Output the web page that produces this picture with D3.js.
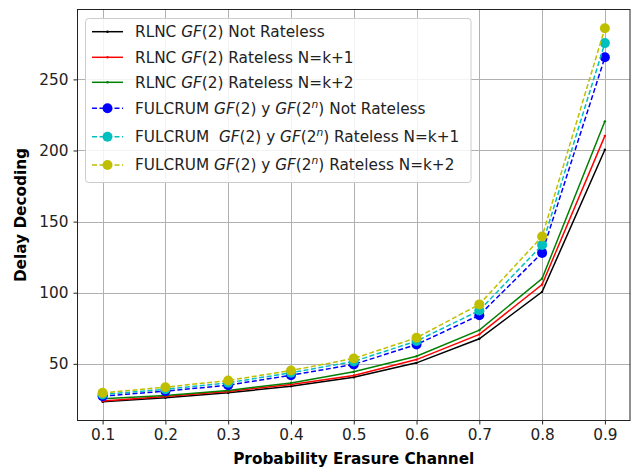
<!DOCTYPE html>
<html><head><meta charset="utf-8">
<script src="https://cdn.jsdelivr.net/npm/d3@7"></script>
<style>
body{margin:0;background:#fff;}
svg{font-family:"DejaVu Sans",sans-serif;}
</style></head>
<body>
<svg id="c" width="642" height="469"></svg>
<script>
const xValues = [0.1,0.2,0.3,0.4,0.5,0.6,0.7,0.8,0.9];
const rlncNotRateless = [23.3,26.1,29.6,34.3,40.6,50.7,67.6,100.6,200.5];
const rlncRatelessK1 = [23.8,27.0,30.6,35.5,41.8,53.0,70.7,105.8,210.3];
const rlncRatelessK2 = [25.4,27.8,31.3,36.6,44.4,55.4,73.7,110.0,220.5];
const fulcrumNotRateless = [27.3,30.8,35.0,42.0,49.6,63.6,84.2,128.0,265.5];
const fulcrumRatelessK1 = [28.5,32.1,36.7,43.7,51.7,66.0,87.5,133.5,275.5];
const fulcrumRatelessK2 = [29.6,33.6,38.3,45.3,53.8,68.3,91.8,139.5,286.0];
const xTicks = [0.1,0.2,0.3,0.4,0.5,0.6,0.7,0.8,0.9];
const yTicks = [50,100,150,200,250];

const series = [
  {values: rlncNotRateless, color:"#000000", dashed:false, label:["RLNC ",["GF","i"],"(2) Not Rateless"]},
  {values: rlncRatelessK1, color:"#ff0000", dashed:false, label:["RLNC ",["GF","i"],"(2) Rateless N=k+1"]},
  {values: rlncRatelessK2, color:"#008000", dashed:false, label:["RLNC ",["GF","i"],"(2) Rateless N=k+2"]},
  {values: fulcrumNotRateless, color:"#0000ff", dashed:true, label:["FULCRUM ",["GF","i"],"(2) y ",["GF","i"],"(2",["n","s"],") Not Rateless"]},
  {values: fulcrumRatelessK1, color:"#00bfbf", dashed:true, label:["FULCRUM\u00a0 ",["GF","i"],"(2) y ",["GF","i"],"(2",["n","s"],") Rateless N=k+1"]},
  {values: fulcrumRatelessK2, color:"#bfbf00", dashed:true, label:["FULCRUM ",["GF","i"],"(2) y ",["GF","i"],"(2",["n","s"],") Rateless N=k+2"]}
];

const FS = 15.3;
const L=77.5, R=630, T=9.5, B=420.5;
const svg = d3.select("#c");
const all = series.flatMap(s=>s.values);
const ymin = d3.min(all), ymax = d3.max(all), pad=(ymax-ymin)*0.05;
const x = d3.scaleLinear().domain([0.06,0.94]).range([L,R]);
const y = d3.scaleLinear().domain([ymin-pad, ymax+pad]).range([B,T]);

// grid
const g = svg.append("g");
g.selectAll(".gx").data(xTicks).enter().append("line")
 .attr("x1",d=>Math.round(x(d))+0.5).attr("x2",d=>Math.round(x(d))+0.5).attr("y1",T).attr("y2",B)
 .attr("stroke","#b0b0b0").attr("stroke-width",1);
g.selectAll(".gy").data(yTicks).enter().append("line")
 .attr("y1",d=>Math.round(y(d))+0.5).attr("y2",d=>Math.round(y(d))+0.5).attr("x1",L).attr("x2",R)
 .attr("stroke","#b0b0b0").attr("stroke-width",1);

// axes
const xAxis = d3.axisBottom(x).tickValues(xTicks).tickFormat(d3.format(".1f")).tickSize(4).tickPadding(5);
const yAxis = d3.axisLeft(y).tickValues(yTicks).tickSize(4).tickPadding(5);
const ax = svg.append("g").attr("transform",`translate(0,${B})`).call(xAxis);
const ay = svg.append("g").attr("transform",`translate(${L},0)`).call(yAxis);
[ax,ay].forEach(a=>{
  a.select(".domain").remove();
  a.selectAll("text").attr("font-size",FS).attr("fill","#222").attr("font-family","DejaVu Sans");
  a.selectAll("line").attr("stroke","#222");
});

// lines
const line = d3.line().x((d,i)=>x(xValues[i])).y(d=>y(d));
const plot = svg.append("g");
series.forEach(s=>{
  plot.append("path").attr("d",line(s.values)).attr("fill","none")
   .attr("stroke",s.color).attr("stroke-width",1.5)
   .attr("stroke-dasharray",s.dashed?"5,2.5":null);
  plot.selectAll(null).data(s.values).enter().append("circle")
   .attr("cx",(d,i)=>x(xValues[i])).attr("cy",d=>y(d)).attr("r",s.dashed?5:1.2)
   .attr("fill",s.color);
});

// frame
svg.append("rect").attr("x",L).attr("y",T).attr("width",R-L).attr("height",B-T)
 .attr("fill","none").attr("stroke","#222").attr("stroke-width",1);

// axis labels
svg.append("text").attr("x",(L+R)/2).attr("y",464).attr("text-anchor","middle")
 .attr("font-size",FS).attr("font-weight","bold").text("Probability Erasure Channel");
svg.append("text").attr("transform",`translate(26,${(T+B)/2}) rotate(-90)`).attr("text-anchor","middle")
 .attr("font-size",FS).attr("font-weight","bold").text("Delay Decoding");

// legend
const lg = svg.append("g");
lg.append("rect").attr("x",85.5).attr("y",18.5).attr("width",385.5).attr("height",164).attr("rx",3)
 .attr("fill","#fff").attr("fill-opacity",0.85).attr("stroke","#cccccc").attr("stroke-width",1);
const rows = [31.7,57.3,82.3,108.3,136.7,165];
series.forEach((s,i)=>{
  const cy = rows[i];
  lg.append("line").attr("x1",92).attr("x2",123).attr("y1",cy).attr("y2",cy)
   .attr("stroke",s.color).attr("stroke-width",1.5).attr("stroke-dasharray",s.dashed?"5,2.5":null);
  lg.append("circle").attr("cx",107.5).attr("cy",cy).attr("r",s.dashed?5:1.2).attr("fill",s.color);
  const t = lg.append("text").attr("x",135).attr("y",cy+5.2).attr("font-size",FS).attr("fill","#222")
   .style("white-space","pre");
  let reset = false;
  s.label.forEach(p=>{
    if (typeof p === "string") {
      const ts = t.append("tspan").text(p);
      if (reset) { ts.attr("dy",6); reset=false; }
    }
    else if (p[1]==="i") t.append("tspan").attr("font-style","italic").text(p[0]);
    else { t.append("tspan").attr("font-style","italic").attr("font-size",FS*0.7).attr("dy",-6).text(p[0]); reset=true; }
  });
});
</script>
</body></html>
